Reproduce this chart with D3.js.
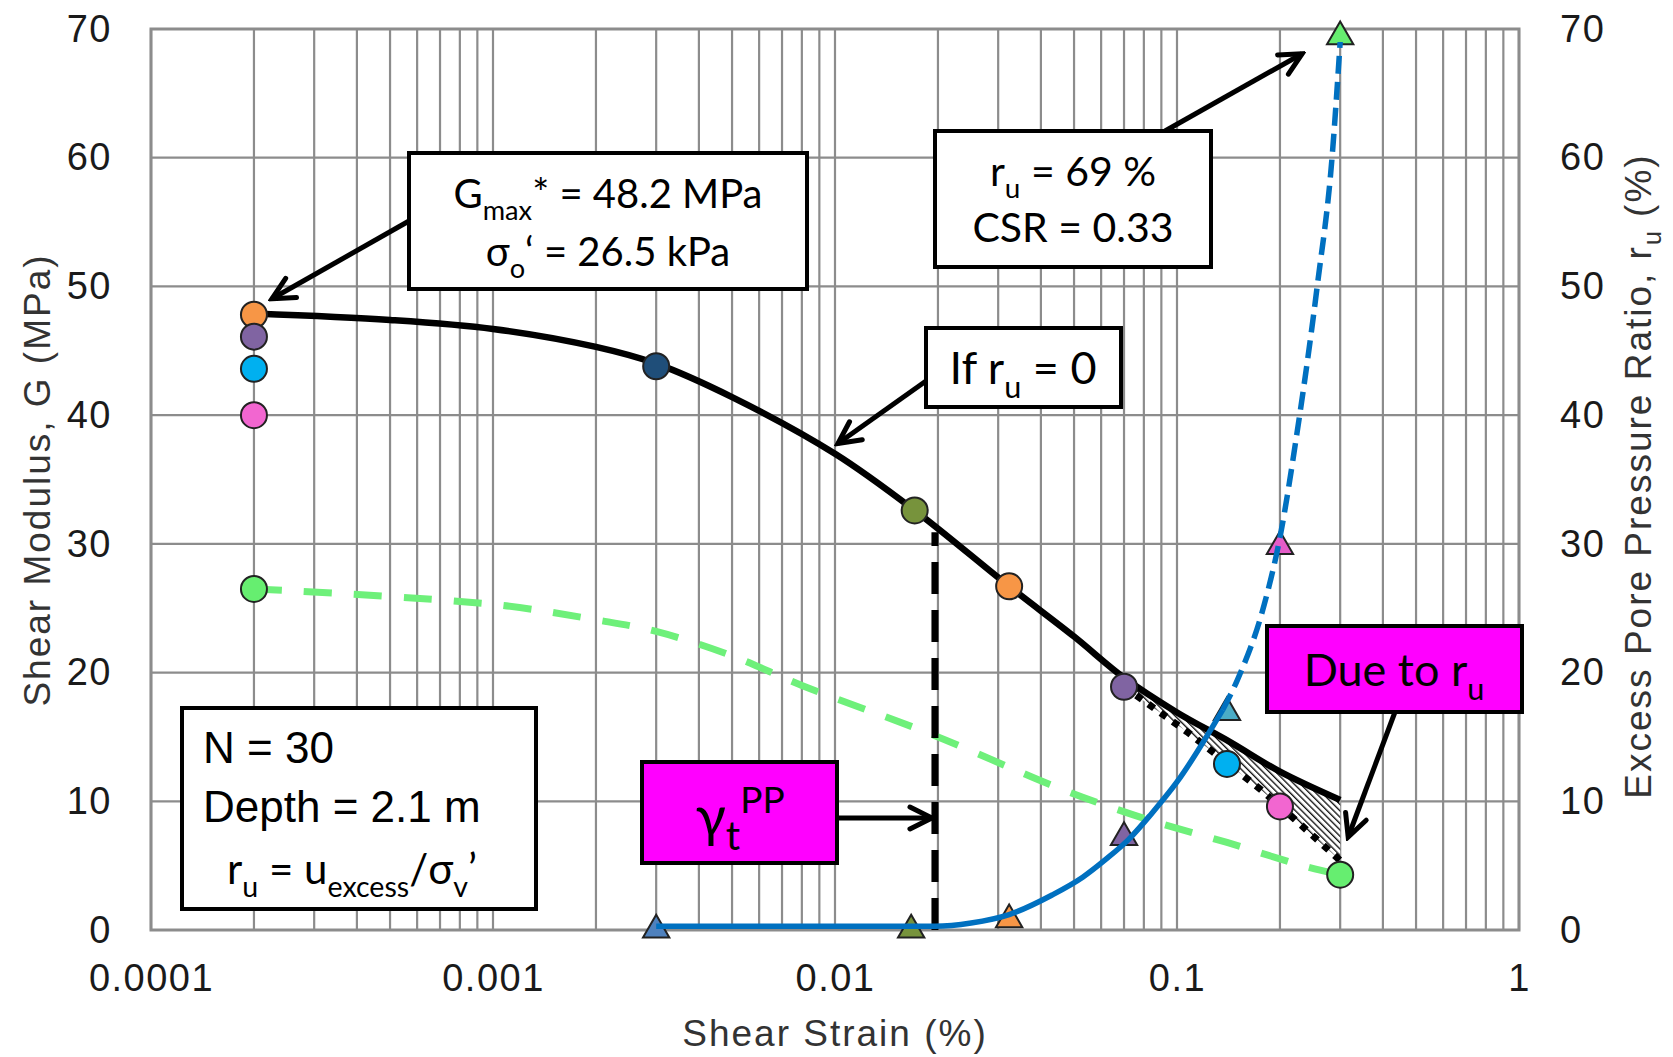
<!DOCTYPE html>
<html>
<head>
<meta charset="utf-8">
<script src="https://cdn.jsdelivr.net/npm/d3@7"></script>
<style>
  html, body { margin: 0; padding: 0; background: #fff; }
  svg { display: block; }
</style>
</head>
<body>
<svg id="chart" width="1673" height="1057"></svg>
<script>
// values
const strainTicks = [0.0001, 0.001, 0.01, 0.1, 1]
const strainTickLabels = ['0.0001', '0.001', '0.01', '0.1', '1']
const valueTicks = [0, 10, 20, 30, 40, 50, 60, 70]

// G curve if ru = 0 (solid black)
const gNoRuStrain = [0.0002, 0.0005, 0.001, 0.002, 0.003, 0.005, 0.01, 0.0171, 0.0323, 0.05, 0.07, 0.1, 0.143, 0.2, 0.3]
const gNoRu = [47.9, 47.4, 46.7, 45.3, 44.0, 41.4, 37.0, 32.6, 26.7, 22.8, 19.6, 16.9, 14.6, 12.3, 10.1]

// G curve with ru (green dashed)
const gRuStrain = [0.0002, 0.001, 0.002, 0.003, 0.005, 0.008, 0.0196, 0.0425, 0.06, 0.084, 0.14, 0.24, 0.3]
const gRu = [26.5, 25.3, 24.1, 23.2, 21.3, 19.0, 15.1, 11.3, 9.8, 8.5, 6.8, 4.9, 4.3]

// degraded G, lower edge of the shaded area (dotted)
const gDegStrain = [0.07, 0.107, 0.176, 0.221, 0.3]
const gDeg = [18.9, 15.4, 10.9, 8.6, 5.4]

// measured G at the smallest strain
const gStartStrain = [0.0002, 0.0002, 0.0002, 0.0002, 0.0002]
const gStart = [47.8, 46.1, 43.6, 40.0, 26.5]
const gStartColors = ['#F79646', '#8064A2', '#00B0F0', '#F266D0', '#66EE70']

// measured G along the curve
const gPtStrain = [0.003, 0.0171, 0.0323, 0.07, 0.14, 0.2, 0.3]
const gPt = [43.8, 32.6, 26.7, 18.9, 12.9, 9.6, 4.3]
const gPtColors = ['#1F4E79', '#77933C', '#F79646', '#8064A2', '#00B0F0', '#F266D0', '#66EE70']

// measured ru (triangles, right axis)
const ruPtStrain = [0.003, 0.0167, 0.0323, 0.07, 0.14, 0.2, 0.3]
const ruPt = [0, 0, 0.8, 7.2, 16.9, 29.8, 69.4]
const ruPtColors = ['#4F81BD', '#77933C', '#F79646', '#8064A2', '#4BACC6', '#E45CC8', '#66EE70']

// ru trend, solid then dashed
const ruFitStrain = [0.003, 0.0196, 0.025, 0.0323, 0.043, 0.053, 0.062, 0.072, 0.084, 0.1, 0.136]
const ruFit = [0.3, 0.3, 0.55, 1.2, 2.7, 4.1, 5.5, 7.0, 9.0, 11.5, 17.1]
const ruExtStrain = [0.136, 0.15, 0.18, 0.2, 0.224, 0.257, 0.284, 0.3]
const ruExt = [17.1, 19.4, 25.3, 30.5, 38.5, 50, 60, 69]

// threshold strain gamma_t^pp
const gammaPP = [0.0196, 0.0196]
const gammaPPG = [0, 30.9]

const svg = d3.select('#chart')
const plotLeft = 151
const plotRight = 1519
const plotTop = 29
const plotBottom = 930

const x = d3.scaleLog().domain([0.0001, 1]).range([plotLeft, plotRight])
const yL = d3.scaleLinear().domain([0, 70]).range([plotBottom, plotTop])
const yR = d3.scaleLinear().domain([0, 70]).range([plotBottom, plotTop])

const tickFont = "'Liberation Sans', Arial, sans-serif"
const noteFont = "Lato, 'Open Sans', 'DejaVu Sans', sans-serif"
const gridColor = '#8c8c8c'

const defs = svg.append('defs')
defs.append('marker')
  .attr('id', 'arrow')
  .attr('viewBox', '-28 -16 32 32')
  .attr('refX', 0)
  .attr('refY', 0)
  .attr('markerWidth', 32)
  .attr('markerHeight', 32)
  .attr('markerUnits', 'userSpaceOnUse')
  .attr('orient', 'auto')
  .append('path')
  .attr('d', 'M-22,-11L0,0L-22,11')
  .attr('fill', 'none')
  .attr('stroke', '#000')
  .attr('stroke-width', 5)
  .attr('stroke-linecap', 'round')
  .attr('stroke-linejoin', 'miter')

const hatch = defs.append('pattern')
  .attr('id', 'hatch')
  .attr('patternUnits', 'userSpaceOnUse')
  .attr('width', 4.5)
  .attr('height', 4.5)
  .attr('patternTransform', 'rotate(-45)')
hatch.append('rect').attr('width', 4.5).attr('height', 4.5).attr('fill', '#fff')
hatch.append('line')
  .attr('x1', 0).attr('y1', 0).attr('x2', 0).attr('y2', 4.5)
  .attr('stroke', '#111').attr('stroke-width', 2.7)

// grid
const grid = svg.append('g').attr('class', 'grid')
const minor = []
for (let e = -4; e < 0; e++) {
  for (let k = 1; k < 10; k++) minor.push(k * Math.pow(10, e))
}
minor.push(1)
grid.selectAll('line.v')
  .data(minor)
  .enter().append('line')
  .attr('class', 'v')
  .attr('x1', d => x(d)).attr('x2', d => x(d))
  .attr('y1', plotTop).attr('y2', plotBottom)
  .attr('stroke', gridColor).attr('stroke-width', 2.2)
grid.selectAll('line.h')
  .data(valueTicks)
  .enter().append('line')
  .attr('class', 'h')
  .attr('x1', plotLeft).attr('x2', plotRight)
  .attr('y1', d => yL(d)).attr('y2', d => yL(d))
  .attr('stroke', gridColor).attr('stroke-width', 2.2)
grid.append('rect')
  .attr('x', plotLeft).attr('y', plotTop)
  .attr('width', plotRight - plotLeft).attr('height', plotBottom - plotTop)
  .attr('fill', 'none').attr('stroke', gridColor).attr('stroke-width', 3)

// axes labels
const axB = d3.axisBottom(x).tickValues(strainTicks).tickFormat((d, i) => strainTickLabels[i]).tickSize(0).tickPadding(34)
const axL = d3.axisLeft(yL).tickValues(valueTicks).tickFormat(d3.format('d')).tickSize(0).tickPadding(39)
const axR = d3.axisRight(yR).tickValues(valueTicks).tickFormat(d3.format('d')).tickSize(0).tickPadding(41)

function styleAxis (g) {
  g.select('.domain').remove()
  g.selectAll('text')
    .style('font-family', tickFont)
    .style('font-size', '38px')
    .style('letter-spacing', '1.5px')
    .attr('fill', '#1a1a1a')
}
svg.append('g').attr('transform', 'translate(0,' + plotBottom + ')').call(axB).call(styleAxis)
svg.append('g').attr('transform', 'translate(' + plotLeft + ',0)').call(axL).call(styleAxis)
svg.append('g').attr('transform', 'translate(' + plotRight + ',0)').call(axR).call(styleAxis)

function title (tx, ty, rot, parts) {
  const t = svg.append('text')
    .attr('transform', 'translate(' + tx + ',' + ty + ') rotate(' + rot + ')')
    .attr('text-anchor', 'middle')
    .style('font-family', tickFont)
    .style('font-size', '37px')
    .style('letter-spacing', '2px')
    .attr('fill', '#333')
  let shift = 0
  parts.forEach(p => {
    const s = p.sub ? 10 : 0
    t.append('tspan').attr('dy', s - shift)
      .style('font-size', p.sub ? '25px' : '37px')
      .text(p.t)
    shift = s
  })
}
title(835, 1046, 0, [{ t: 'Shear Strain (%)' }])
title(50, 480, -90, [{ t: 'Shear Modulus, G (MPa)' }])
title(1651, 476, -90, [{ t: 'Excess Pore Pressure Ratio, r' }, { t: 'u', sub: true }, { t: ' (%)' }])

// curves
const lineG = d3.line().x(d => x(d[0])).y(d => yL(d[1])).curve(d3.curveCatmullRom.alpha(0.5))
const lineR = d3.line().x(d => x(d[0])).y(d => yR(d[1])).curve(d3.curveMonotoneX)

svg.append('path')
  .datum(d3.zip(gRuStrain, gRu))
  .attr('d', lineG)
  .attr('fill', 'none')
  .attr('stroke', '#6EF07A')
  .attr('stroke-width', 7)
  .attr('stroke-dasharray', '28,22')

// shaded loss due to ru
const upper = d3.zip(gNoRuStrain, gNoRu).filter(d => d[0] >= 0.07)
const lower = d3.zip(gDegStrain, gDeg).reverse()
const upperPath = lineG(upper)
const lowerPath = lower.map(d => 'L' + x(d[0]) + ',' + yL(d[1])).join('')
svg.append('path')
  .attr('d', upperPath + lowerPath + 'Z')
  .attr('fill', 'url(#hatch)')
  .attr('stroke', 'none')

svg.append('path')
  .datum(d3.zip(gDegStrain, gDeg))
  .attr('d', d3.line().x(d => x(d[0])).y(d => yL(d[1])))
  .attr('fill', 'none')
  .attr('stroke', '#000')
  .attr('stroke-width', 7)
  .attr('stroke-dasharray', '7,8')

svg.append('path')
  .datum(d3.zip(gNoRuStrain, gNoRu))
  .attr('d', lineG)
  .attr('fill', 'none')
  .attr('stroke', '#000')
  .attr('stroke-width', 6.5)

svg.append('path')
  .datum(d3.zip(gammaPP, gammaPPG))
  .attr('d', d3.line().x(d => x(d[0])).y(d => yL(d[1])))
  .attr('fill', 'none')
  .attr('stroke', '#000')
  .attr('stroke-width', 7)
  .attr('stroke-dasharray', '32,16')

// ru triangles
const tri = d3.symbol().type(d3.symbolTriangle).size(300)
svg.append('g')
  .selectAll('path')
  .data(d3.zip(ruPtStrain, ruPt, ruPtColors))
  .enter().append('path')
  .attr('d', tri)
  .attr('transform', d => 'translate(' + x(d[0]) + ',' + yR(d[1]) + ')')
  .attr('fill', d => d[2])
  .attr('stroke', '#222')
  .attr('stroke-width', 2)

svg.append('path')
  .datum(d3.zip(ruFitStrain, ruFit))
  .attr('d', lineR)
  .attr('fill', 'none')
  .attr('stroke', '#0070C0')
  .attr('stroke-width', 5.5)
svg.append('path')
  .datum(d3.zip(ruExtStrain, ruExt))
  .attr('d', lineR)
  .attr('fill', 'none')
  .attr('stroke', '#0070C0')
  .attr('stroke-width', 5.5)
  .attr('stroke-dasharray', '18,8')

// G circles
const circles = d3.zip(gStartStrain, gStart, gStartColors).concat(d3.zip(gPtStrain, gPt, gPtColors))
svg.append('g')
  .selectAll('circle')
  .data(circles)
  .enter().append('circle')
  .attr('cx', d => x(d[0]))
  .attr('cy', d => yL(d[1]))
  .attr('r', 13)
  .attr('fill', d => d[2])
  .attr('stroke', '#222')
  .attr('stroke-width', 2)

// annotations
const notes = svg.append('g').attr('class', 'notes')

function box (x0, y0, w, h, fill) {
  notes.append('rect')
    .attr('x', x0).attr('y', y0).attr('width', w).attr('height', h)
    .attr('fill', fill).attr('stroke', '#000').attr('stroke-width', 4)
}

function arrow (x1, y1, x2, y2) {
  notes.append('line')
    .attr('x1', x1).attr('y1', y1).attr('x2', x2).attr('y2', y2)
    .attr('stroke', '#000').attr('stroke-width', 5)
    .attr('marker-end', 'url(#arrow)')
}

function rich (tx, ty, size, parts, anchor, font) {
  const t = notes.append('text')
    .attr('x', tx).attr('y', ty)
    .attr('text-anchor', anchor || 'middle')
    .style('font-family', font || noteFont)
    .style('font-size', size + 'px')
    .attr('fill', '#000')
  let shift = 0
  parts.forEach(p => {
    const s = p.sub ? size * 0.3 : p.sup ? -size * 0.42 : 0
    t.append('tspan').attr('dy', s - shift)
      .style('font-size', (p.sub || p.sup ? size * 0.68 : size) + 'px')
      .text(p.t)
    shift = s
  })
}

arrow(409, 221, x(gStartStrain[0]) + 18, yL(gStart[0]) - 16)
box(409, 153, 398, 136, '#fff')
rich(608, 208, 40, [{ t: 'G' }, { t: 'max', sub: true }, { t: '* = 48.2 MPa' }])
rich(608, 266, 40, [{ t: 'σ' }, { t: 'o', sub: true }, { t: '‘ = 26.5 kPa' }])

arrow(1165, 131, x(ruPtStrain[6]) - 38, yR(ruPt[6]) + 17)
box(935, 131, 276, 136, '#fff')
rich(1073, 186, 41, [{ t: 'r' }, { t: 'u', sub: true }, { t: ' = 69 %' }])
rich(1073, 242, 41, [{ t: 'CSR = 0.33' }])

arrow(926, 381, x(0.0102), yL(37.8))
box(926, 328, 195, 79, '#fff')
rich(1023, 384, 45, [{ t: 'If r' }, { t: 'u', sub: true }, { t: ' = 0' }])

box(182, 708, 354, 201, '#fff')
rich(203, 763, 44, [{ t: 'N = 30' }], 'start', tickFont)
rich(203, 822, 44, [{ t: 'Depth = 2.1 m' }], 'start', tickFont)
rich(352, 884, 42, [{ t: 'r' }, { t: 'u', sub: true }, { t: ' = u' }, { t: 'excess', sub: true }, { t: '/σ' }, { t: 'v', sub: true }, { t: '’' }])

arrow(837, 818, x(gammaPP[0]) - 3, 818)
box(642, 762, 195, 101, '#FF00FF')
const gt = notes.append('text')
  .attr('x', 740).attr('y', 836)
  .attr('text-anchor', 'middle')
  .style('font-family', noteFont)
  .attr('fill', '#000')
gt.append('tspan').style('font-size', '56px').text('γ')
gt.append('tspan').attr('dy', 14).style('font-size', '40px').text('t')
gt.append('tspan').attr('dy', -37).style('font-size', '37px').text('PP')

arrow(1395, 712, x(0.3) + 8, yL(gNoRu[gNoRu.length - 1]) - 38 + 75)
box(1267, 626, 255, 86, '#FF00FF')
rich(1394, 686, 45, [{ t: 'Due to r' }, { t: 'u', sub: true }])
</script>
</body>
</html>
